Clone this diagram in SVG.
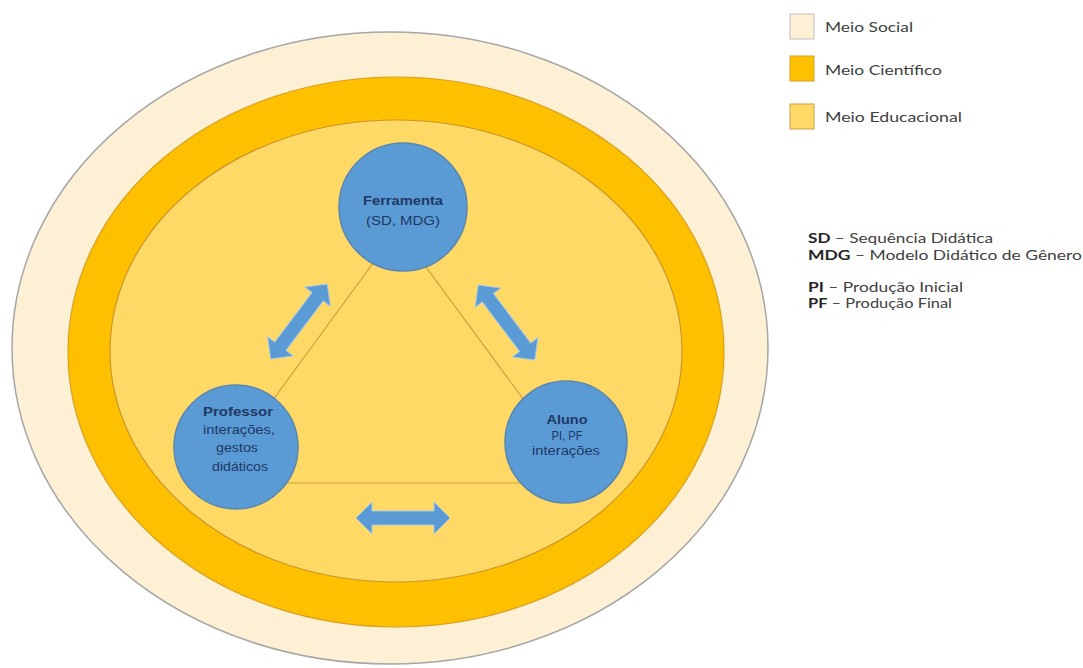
<svg xmlns="http://www.w3.org/2000/svg" width="1083" height="668" viewBox="0 0 1083 668">
<defs>
<style>
.node-circle{fill:#5b9bd5;stroke:#5a86b0;stroke-width:1.5}
.nt{font-family:"Liberation Sans",Arial,sans-serif;font-size:12px;fill:#1f3864;text-anchor:middle}
.nb{font-weight:bold}
.lg{font-family:Lato,"Open Sans",sans-serif;font-size:14px;fill:#404040}
.lgb{font-weight:bold;fill:#262626}
.arrow{fill:#5b9bd5;stroke:#a8c8e8;stroke-width:1}
.tri{fill:none;stroke:#d4a23c;stroke-width:1.2}
</style>
<path id="dblarrow" d="M-47,0 L-31,-16 L-31,-7 L31,-7 L31,-16 L47,0 L31,16 L31,7 L-31,7 L-31,16 Z"/>
</defs>
<rect width="1083" height="668" fill="#ffffff"/>
<g id="environments">
<ellipse id="meio-social" cx="390" cy="348" rx="378" ry="316" fill="#fdf0d5" stroke="#a6a6a6" stroke-width="1.5"/>
<ellipse id="meio-cientifico" cx="396" cy="352" rx="328" ry="275" fill="#ffc000" stroke="#d9a020" stroke-width="1.2"/>
<ellipse id="meio-educacional" cx="396" cy="351" rx="286" ry="231" fill="#ffd966" stroke="#c9962a" stroke-width="1.2"/>
</g>
<g id="connectors">
<polygon class="tri" points="398,229 212,483 585,483"/>
<use href="#dblarrow" class="arrow" transform="translate(299,321.5) rotate(-53)"/>
<use href="#dblarrow" class="arrow" transform="translate(506.5,322.5) rotate(53)"/>
<use href="#dblarrow" class="arrow" transform="translate(403,518)"/>
</g>
<g id="node-ferramenta">
<circle class="node-circle" cx="403" cy="207" r="64"/>
<text class="nt nb" x="403" y="205" textLength="80" lengthAdjust="spacingAndGlyphs">Ferramenta</text>
<text class="nt" x="403" y="225" textLength="74" lengthAdjust="spacingAndGlyphs">(SD, MDG)</text>
</g>
<g id="node-professor">
<circle class="node-circle" cx="236" cy="447" r="62"/>
<text class="nt nb" x="238" y="416" textLength="70" lengthAdjust="spacingAndGlyphs">Professor</text>
<text class="nt" x="239" y="434" textLength="72" lengthAdjust="spacingAndGlyphs">interações,</text>
<text class="nt" x="237" y="452" textLength="42" lengthAdjust="spacingAndGlyphs">gestos</text>
<text class="nt" x="240" y="471" textLength="56" lengthAdjust="spacingAndGlyphs">didáticos</text>
</g>
<g id="node-aluno">
<circle class="node-circle" cx="566" cy="442" r="61"/>
<text class="nt nb" x="567" y="424" textLength="41" lengthAdjust="spacingAndGlyphs">Aluno</text>
<text class="nt" x="567" y="440" textLength="31" lengthAdjust="spacingAndGlyphs">PI, PF</text>
<text class="nt" x="566" y="455" textLength="68" lengthAdjust="spacingAndGlyphs">interações</text>
</g>
<g id="legend">
<rect x="790" y="14" width="24" height="25" fill="#fdf0d5" stroke="#bfbfbf"/>
<text class="lg" x="825" y="32" textLength="88" lengthAdjust="spacingAndGlyphs">Meio Social</text>
<rect x="790" y="56" width="24" height="25" fill="#ffc000" stroke="#d9a020"/>
<text class="lg" x="825" y="75" textLength="117" lengthAdjust="spacingAndGlyphs">Meio Científico</text>
<rect x="790" y="104" width="24" height="25" fill="#ffd966" stroke="#c9a040"/>
<text class="lg" x="825" y="122" textLength="137" lengthAdjust="spacingAndGlyphs">Meio Educacional</text>
</g>
<g id="abbreviations">
<text class="lg" x="808" y="243" textLength="185" lengthAdjust="spacingAndGlyphs"><tspan class="lgb">SD</tspan> – Sequência Didática</text>
<text class="lg" x="808" y="260" textLength="274" lengthAdjust="spacingAndGlyphs"><tspan class="lgb">MDG</tspan> – Modelo Didático de Gênero</text>
<text class="lg" x="808" y="292" textLength="155" lengthAdjust="spacingAndGlyphs"><tspan class="lgb">PI</tspan> – Produção Inicial</text>
<text class="lg" x="808" y="308" textLength="144" lengthAdjust="spacingAndGlyphs"><tspan class="lgb">PF</tspan> – Produção Final</text>
</g>
</svg>
